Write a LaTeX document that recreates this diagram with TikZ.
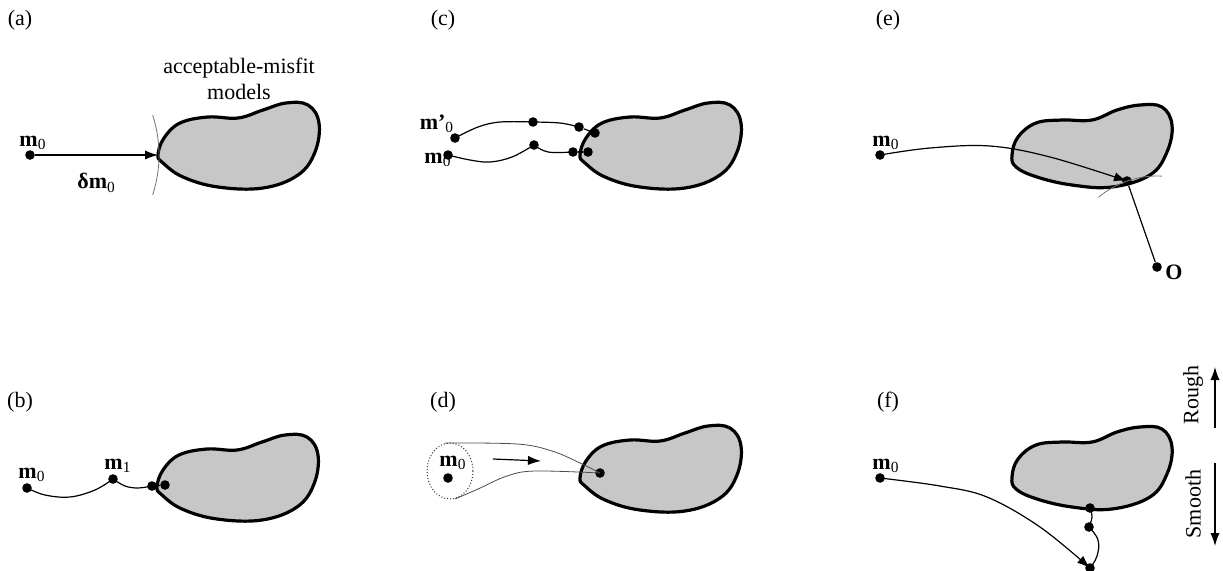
\documentclass[tikz,border=0pt]{standalone}
\usepackage{fontspec}
\setmainfont{Liberation Serif}
\usetikzlibrary{arrows.meta}

\begin{document}
\begin{tikzpicture}[x=0.5pt,y=-0.5pt,
					>={Latex[length=6.5pt,width=4.6pt]},
					font=\fontsize{11}{13}\selectfont,
					dot/.style={circle,fill,inner sep=0pt,minimum size=4.8pt},
					lbl/.style={inner sep=0pt},
					walk/.style={line width=0.6pt},
					guide/.style={line width=0.4pt,black!55},
					blobline/.style={line width=1.6pt,fill=black!22},
					blob/.pic={
					  \draw[blobline] plot[smooth cycle,tension=0.65] coordinates
					    {(0,0) (6,-17) (22,-32) (50,-38) (80,-37) (105,-45) (128,-52) (150,-50)
					     (161,-32) (157,-3) (140,20) (105,33) (60,32) (25,22) (5,8)};
					},
					round blob/.pic={
					  \draw[blobline] plot[smooth cycle,tension=0.65] coordinates
					    {(0,0) (6,-18) (24,-32) (50,-35) (80,-35) (105,-45) (128,-50) (150,-48)
					     (160,-30) (155,-3) (138,20) (100,32) (60,30) (25,22) (4,12)};
					}]

  \useasboundingbox (0,0) rectangle (1223,570);

  % (a)
  \node[lbl] (a-tag) at (20,20) {(a)};
  \pic at (158,155) {blob};
  \node[lbl,align=center] (a-text) at (239,79) {acceptable-misfit\\models};
  \node[dot] (a-m0) at (30,155) {};
  \node[lbl] (a-m0-lab) at (33,143) {\textbf{m}\textsubscript{0}};
  \coordinate (a-tip) at (158,155);
  \draw[walk,->] (a-m0) -- (a-tip) node[lbl,pos=0.5,below=9pt] (a-dm) {\textbf{δm}\textsubscript{0}};
  \draw[guide] (a-m0) ++(-18:129) arc[start angle=-18,end angle=18,radius=129];

  % (b)
  \node[lbl] (b-tag) at (20,402) {(b)};
  \pic at (157,487) {blob};
  \node[dot] (b-m0) at (27,488) {};
  \node[lbl] (b-m0-lab) at (32,475) {\textbf{m}\textsubscript{0}};
  \node[dot] (b-m1) at (113,479) {};
  \node[lbl] (b-m1-lab) at (118,466) {\textbf{m}\textsubscript{1}};
  \node[dot] (b-p1) at (152,486) {};
  \node[dot] (b-p2) at (165,485) {};
  \draw[walk] plot[smooth,tension=0.6] coordinates {(b-m0) (45,495) (70,497) (95,490) (b-m1)};
  \draw[walk] plot[smooth,tension=0.6] coordinates {(b-m1) (125,486) (138,488) (b-p1)};
  \draw[walk] (b-p1) -- (b-p2);

  % (c)
  \node[lbl] (c-tag) at (443,20) {(c)};
  \pic at (580,155) {blob};
  \node[dot] (c-m0p) at (455,138) {};
  \node[lbl] (c-m0p-lab) at (437,124) {\textbf{m'}\textsubscript{0}};
  \node[dot] (c-m0) at (448,155) {};
  \node[lbl] (c-m0-lab) at (438,160) {\textbf{m}\textsubscript{0}};
  \node[dot] (c-u1) at (533,122) {};
  \node[dot] (c-u2) at (579,127) {};
  \node[dot] (c-u3) at (595,133) {};
  \node[dot] (c-l1) at (534,145) {};
  \node[dot] (c-l2) at (573,152) {};
  \node[dot] (c-l3) at (588,152) {};
  \draw[walk] plot[smooth,tension=0.6] coordinates {(c-m0p) (478,127) (500,122) (c-u1)};
  \draw[walk] plot[smooth,tension=0.6] coordinates {(c-u1) (560,123) (c-u2)};
  \draw[walk] (c-u2) -- (c-u3);
  \draw[walk] plot[smooth,tension=0.6] coordinates {(c-m0) (470,160) (490,162) (512,157) (c-l1)};
  \draw[walk] plot[smooth,tension=0.6] coordinates {(c-l1) (548,152) (c-l2)};
  \draw[walk] (c-l2) -- (c-l3);

  % (d)
  \node[lbl] (d-tag) at (443,402) {(d)};
  \pic at (580,478) {blob};
  \draw[line width=0.5pt,densely dotted,black!80] (450,471) ellipse[x radius=23,y radius=28];
  \node[dot] (d-m0) at (448,478) {};
  \node[lbl] (d-m0-lab) at (453,463) {\textbf{m}\textsubscript{0}};
  \node[dot] (d-end) at (600,473) {};
  \coordinate (d-top) at (445,443);
  \coordinate (d-bot) at (455,499);
  \draw[guide,black!70] plot[smooth,tension=0.6] coordinates {(d-top) (517,444) (552,451) (580,463) (d-end)};
  \draw[guide,black!70] plot[smooth,tension=0.6] coordinates {(d-bot) (478,489) (507,476) (535,471) (d-end)};
  \coordinate (d-a1) at (493,459);
  \coordinate (d-a2) at (541,461);
  \draw[walk,->] (d-a1) -- (d-a2);

  % (e)
  \node[lbl] (e-tag) at (888,20) {(e)};
  \pic at (1012,155) {round blob};
  \node[dot] (e-m0) at (880,155) {};
  \node[lbl] (e-m0-lab) at (886,143) {\textbf{m}\textsubscript{0}};
  \node[dot] (e-p) at (1127,181) {};
  \node[dot] (e-o) at (1157,267) {};
  \node[lbl,anchor=west] (e-o-lab) at (1165,272) {\textbf{O}};
  \draw[walk,->] plot[smooth,tension=0.6] coordinates {(e-m0) (930,148) (990,146) (1050,157) (e-p)};
  \draw[walk] (e-p) -- (e-o);
  \draw[guide] (e-o) ++(-87:91) arc[start angle=-87,end angle=-130,radius=91];

  % (f)
  \node[lbl] (f-tag) at (888,402) {(f)};
  \pic at (1012,477) {round blob};
  \node[dot] (f-m0) at (880,478) {};
  \node[lbl] (f-m0-lab) at (886,466) {\textbf{m}\textsubscript{0}};
  \node[dot] (f-b1) at (1090,508) {};
  \node[dot] (f-b2) at (1089,527) {};
  \node[dot] (f-end) at (1090,568) {};
  \draw[walk,->] plot[smooth,tension=0.6] coordinates {(f-m0) (940,486) (987,497) (1040,527) (f-end)};
  \draw[walk] plot[smooth,tension=0.7] coordinates {(f-b1) (1092,517) (f-b2)};
  \draw[walk] plot[smooth,tension=0.7] coordinates {(f-b2) (1098,540) (1097,556) (f-end)};

  % rough / smooth
  \node[lbl,rotate=90] (rough) at (1193,395) {Rough};
  \node[lbl,rotate=90] (smooth) at (1193,504) {Smooth};
  \coordinate (rough-a) at (1215,428);
  \coordinate (rough-b) at (1215,367);
  \coordinate (smooth-a) at (1215,463);
  \coordinate (smooth-b) at (1215,546);
  \draw[walk,->] (rough-a) -- (rough-b);
  \draw[walk,->] (smooth-a) -- (smooth-b);
\end{tikzpicture}
\end{document}
